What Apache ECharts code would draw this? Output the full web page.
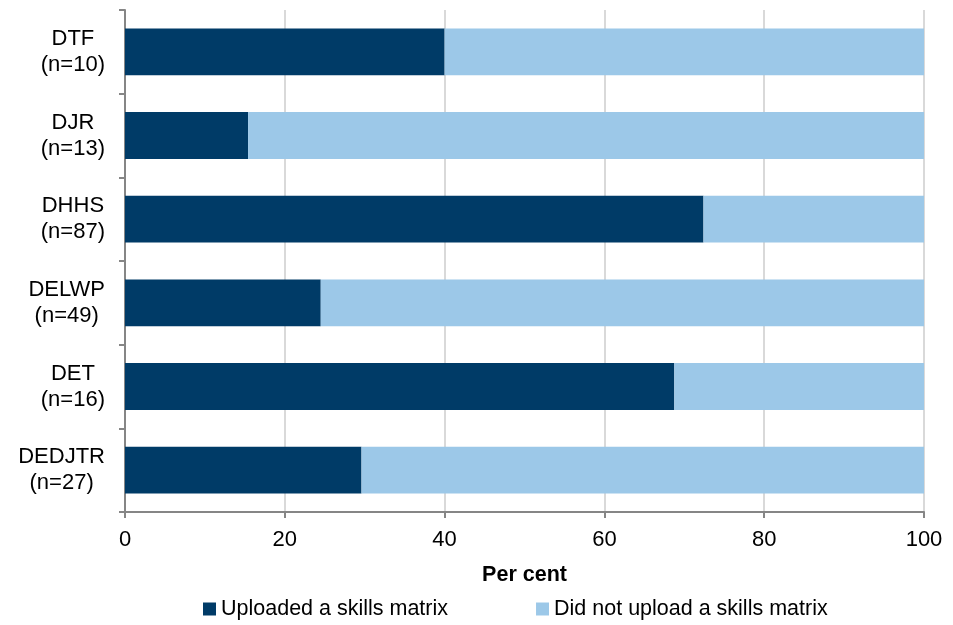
<!DOCTYPE html>
<html><head><meta charset="utf-8">
<script src="https://cdn.jsdelivr.net/npm/echarts@6/dist/echarts.min.js"></script>
<style>html,body{margin:0;padding:0;background:#fff}#c{width:953px;height:625px}</style>
</head><body><div id="c"></div>
<script>
const categories = ['DTF\n(n=10)','DJR\n(n=13)','DHHS\n(n=87)','DELWP\n(n=49)','DET\n(n=16)','DEDJTR\n(n=27)'];
const uploaded = [40, 15.4, 72.4, 24.5, 68.75, 29.6];
const notUploaded = [60, 84.6, 27.6, 75.5, 31.25, 70.4];
const xTicks = [0, 20, 40, 60, 80, 100];

const chart = echarts.init(document.getElementById('c'));
const font = 'Liberation Sans, Arial, sans-serif';
chart.setOption({
  animation: false,
  textStyle: {fontFamily: font},
  grid: {left: 125, right: 29, top: 10, bottom: 113},
  legend: {
    top: 598, left: 203, padding: 0, itemWidth: 13, itemHeight: 13, itemGap: 88,
    icon: 'rect',
    textStyle: {fontSize: 21.5, color: '#000', fontFamily: font},
    data: ['Uploaded a skills matrix', 'Did not upload a skills matrix']
  },
  xAxis: {
    type: 'value', min: 0, max: 100, interval: 20,
    name: 'Per cent', nameLocation: 'middle', nameGap: 52,
    nameTextStyle: {fontSize: 21.5, fontWeight: 'bold', color: '#000', fontFamily: font},
    axisLine: {show: true, lineStyle: {color: '#868686', width: 2}},
    axisTick: {show: true, length: 6, lineStyle: {color: '#868686', width: 2}},
    axisLabel: {fontSize: 22, color: '#000', margin: 17, fontFamily: font,
      formatter: v => xTicks.includes(v) ? String(v) : ''},
    splitLine: {show: true, lineStyle: {color: '#d9d9d9', width: 2}}
  },
  yAxis: {
    type: 'category', inverse: true, data: categories,
    axisLine: {show: true, lineStyle: {color: '#868686', width: 2}},
    axisTick: {show: true, length: 6, lineStyle: {color: '#868686', width: 2}},
    axisLabel: {fontSize: 22, color: '#000', margin: 20, align: 'right', fontFamily: font,
      formatter: v => v.split('\n').map(s => '{c|' + s + '}').join('\n'),
      rich: {c: {align: 'center', fontSize: 22, lineHeight: 26, color: '#000', fontFamily: font}}},
    splitLine: {show: false}
  },
  series: [
    {name: 'Uploaded a skills matrix', type: 'bar', stack: 's', data: uploaded,
     barWidth: '56%', itemStyle: {color: '#003b67'}},
    {name: 'Did not upload a skills matrix', type: 'bar', stack: 's', data: notUploaded,
     barWidth: '56%', itemStyle: {color: '#9cc8e8'}}
  ]
});
</script></body></html>
